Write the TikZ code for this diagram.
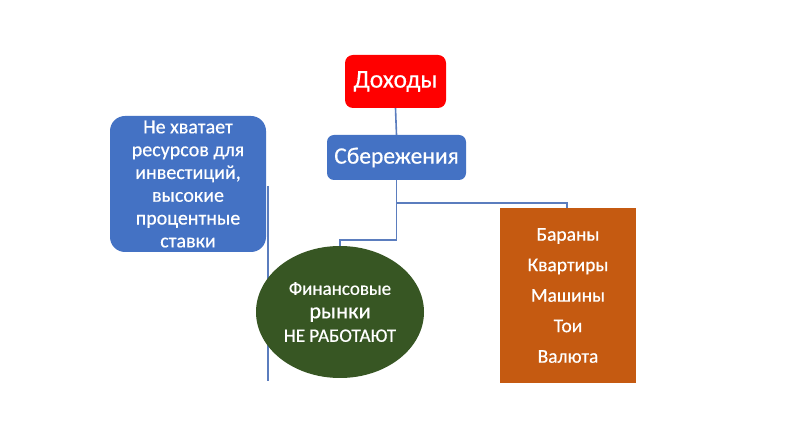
\documentclass[tikz,border=0pt]{standalone}
\usepackage{fontspec}
\setmainfont{Carlito}[BoldFont=Carlito, BoldFeatures={FakeBold=0.5}]
\usetikzlibrary{shapes.geometric}
\definecolor{redbox}{HTML}{FF0000}
\definecolor{bluebox}{HTML}{4472C4}
\definecolor{orangebox}{HTML}{C55A11}
\definecolor{greenell}{HTML}{375623}
\definecolor{linecol}{HTML}{5B7DBE}
\tikzset{
  box/.style={draw=none, text=white, align=center, inner sep=0pt},
  conn/.style={draw=linecol, line width=1.6pt}
}
\begin{document}
\begin{tikzpicture}[x=1pt,y=-1pt]
\useasboundingbox[fill=white] (0,0) rectangle (788,435);
% background vertical line behind ellipse
\coordinate (vtop) at (268,186);
\coordinate (vbot) at (268,381);
\draw[conn] (vtop) -- (vbot);
\node[box, fill=redbox, rounded corners=8pt, minimum width=101pt, minimum height=53pt,
      font=\fontsize{25.5}{28}\selectfont\bfseries] (inc) at (395.5,81.5) {Доходы};
\node[box, fill=bluebox, rounded corners=7pt, minimum width=139pt, minimum height=45pt,
      font=\fontsize{23.5}{26}\selectfont\bfseries] (sav) at (396.5,157.5) {Сбережения};
\node[box, fill=bluebox, rounded corners=15pt, minimum width=156pt, minimum height=136pt,
      font=\fontsize{20}{22.8}\selectfont\bfseries] (lack) at (188,184)
      {Не хватает\\ресурсов для\\инвестиций,\\высокие\\процентные\\ставки};
\node[box, fill=orangebox, minimum width=136pt, minimum height=175pt,
      font=\fontsize{19.5}{30.5}\selectfont\bfseries] (assets) at (568,295.5)
      {Бараны\\Квартиры\\Машины\\Тои\\Валюта};
\node[box, ellipse, fill=greenell, minimum width=168pt, minimum height=132pt,
      font=\fontsize{19}{23.5}\selectfont\bfseries] (fin) at (340,312)
      {Финансовые\\{\fontsize{22.5}{23.5}\selectfont рынки}\\НЕ РАБОТАЮТ};
% connectors
\draw[conn] (inc.south) -- (sav.north);
\draw[conn] (sav.south) |- (567,203) coordinate (rtop) -- (rtop |- assets.north);
\draw[conn] (sav.south) |- (340,240) coordinate (ltop) -- (fin.north);
\end{tikzpicture}
\end{document}
